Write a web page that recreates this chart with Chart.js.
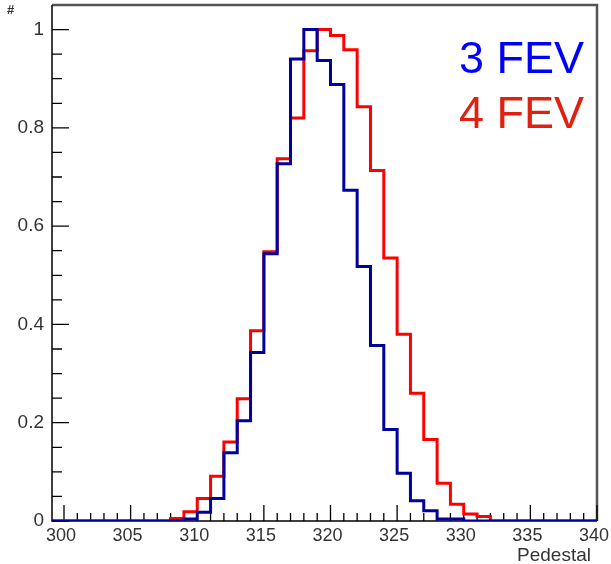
<!DOCTYPE html>
<html>
<head>
<meta charset="utf-8">
<script src="https://cdn.jsdelivr.net/npm/chart.js@4.4.0/dist/chart.umd.min.js"></script>
<style>
body { margin: 0; background: #fff; }
</style>
</head>
<body>
<canvas id="histCanvas" width="611" height="564"></canvas>
<script>
// bin left edges (last entry closes the final bin)
const binEdges = [299, 300, 301, 302, 303, 304, 305, 306, 307, 308, 309,
    310, 311, 312, 313, 314, 315, 316, 317, 318, 319,
    320, 321, 322, 323, 324, 325, 326, 327, 328, 329,
    330, 331, 332, 333, 334, 335, 336, 337, 338, 339, 340];

const fev3 = [0, 0, 0, 0, 0, 0, 0, 0, 0, 0, 0.004,
    0.018, 0.046, 0.139, 0.204, 0.343, 0.544, 0.727, 0.94, 1.0, 0.937,
    0.888, 0.673, 0.518, 0.357, 0.186, 0.097, 0.041, 0.021, 0.004, 0.004,
    0, 0, 0, 0, 0, 0, 0, 0, 0, 0];

const fev4 = [0, 0, 0, 0, 0, 0, 0, 0, 0, 0.005, 0.019,
    0.046, 0.091, 0.161, 0.249, 0.387, 0.548, 0.737, 0.82, 0.957, 1.0,
    0.988, 0.959, 0.843, 0.713, 0.535, 0.38, 0.26, 0.166, 0.077, 0.034,
    0.014, 0.009, 0, 0, 0, 0, 0, 0, 0, 0];

const xTickLabels = [300, 305, 310, 315, 320, 325, 330, 335, 340];
const yTickLabels = [0, 0.2, 0.4, 0.6, 0.8, 1];
const seriesNames = ['3 FEV', '4 FEV'];

const FONT = '"Liberation Sans", Arial, sans-serif';

function toSteps(values) {
    const pts = values.map((v, i) => ({ x: binEdges[i], y: v }));
    pts.push({ x: binEdges[binEdges.length - 1], y: values[values.length - 1] });
    return pts;
}

function noPad(scale) {
    scale.paddingTop = 0;
    scale.paddingBottom = 0;
    scale.paddingLeft = 0;
    scale.paddingRight = 0;
}

const rootFrame = {
    id: 'rootFrame',
    beforeDatasetsDraw(chart) {
        const c = chart.ctx;
        const a = chart.chartArea;
        const xs = chart.scales.x;
        const ys = chart.scales.y;
        c.save();
        // grey frame top / right
        c.strokeStyle = '#555';
        c.lineWidth = 2.5;
        c.beginPath();
        c.moveTo(a.left, a.top);
        c.lineTo(a.right, a.top);
        c.lineTo(a.right, a.bottom);
        c.stroke();
        // black axes
        c.strokeStyle = '#000';
        c.lineWidth = 1.5;
        c.beginPath();
        c.moveTo(a.left, a.top);
        c.lineTo(a.left, a.bottom);
        c.lineTo(a.right, a.bottom);
        c.stroke();
        // x ticks, inside
        c.lineWidth = 1.3;
        c.beginPath();
        for (let v = 300; v <= 340; v++) {
            const px = xs.getPixelForValue(v);
            const len = v % 5 === 0 ? 16 : 8;
            c.moveTo(px, a.bottom);
            c.lineTo(px, a.bottom - len);
        }
        // y ticks, inside
        for (let k = 0; k <= 20; k++) {
            const py = ys.getPixelForValue(k * 0.05);
            const len = k % 4 === 0 ? 17 : 10;
            c.moveTo(a.left, py);
            c.lineTo(a.left + len, py);
        }
        c.stroke();
        c.restore();
    },
    afterDraw(chart) {
        const c = chart.ctx;
        c.save();
        c.fillStyle = '#333';
        c.font = 'bold 13px ' + FONT;
        c.textAlign = 'left';
        c.textBaseline = 'top';
        c.fillText('#', 7, 4);
        c.font = '19px ' + FONT;
        c.textAlign = 'right';
        c.textBaseline = 'middle';
        c.fillText('Pedestal', 591, 556);
        c.font = '45px ' + FONT;
        c.textBaseline = 'alphabetic';
        c.fillStyle = '#0000ff';
        c.fillText(seriesNames[0], 584, 73);
        c.fillStyle = '#e02010';
        c.fillText(seriesNames[1], 584, 128);
        c.restore();
    }
};

new Chart(document.getElementById('histCanvas'), {
    type: 'line',
    data: {
        datasets: [{
            label: seriesNames[0],
            data: toSteps(fev3),
            stepped: 'before',
            borderColor: '#00009c',
            borderWidth: 3,
            pointRadius: 0,
            fill: false
        }, {
            label: seriesNames[1],
            data: toSteps(fev4),
            stepped: 'before',
            borderColor: '#ff0000',
            borderWidth: 3,
            pointRadius: 0,
            fill: false
        }]
    },
    options: {
        responsive: false,
        animation: false,
        events: [],
        layout: {
            padding: { left: 0, top: 5, right: 14, bottom: 0 }
        },
        plugins: {
            legend: { display: false },
            tooltip: { enabled: false }
        },
        scales: {
            x: {
                type: 'linear',
                min: 299.1,
                max: 340,
                afterBuildTicks(scale) {
                    scale.ticks = xTickLabels.map(v => ({ value: v }));
                },
                afterFit(scale) {
                    scale.height = 43;
                    noPad(scale);
                },
                grid: { display: false, drawTicks: false },
                border: { display: false },
                ticks: {
                    autoSkip: false,
                    maxRotation: 0,
                    padding: 4,
                    labelOffset: -3,
                    color: '#333',
                    font: { family: FONT, size: 18 },
                    callback: v => String(v)
                }
            },
            y: {
                min: 0,
                max: 1.05,
                afterBuildTicks(scale) {
                    scale.ticks = yTickLabels.map(v => ({ value: v }));
                },
                afterFit(scale) {
                    scale.width = 52;
                    noPad(scale);
                },
                grid: { display: false, drawTicks: false },
                border: { display: false },
                ticks: {
                    padding: 8,
                    color: '#333',
                    font: { family: FONT, size: 19 },
                    callback: v => String(v)
                }
            }
        }
    },
    plugins: [rootFrame]
});
</script>
</body>
</html>
